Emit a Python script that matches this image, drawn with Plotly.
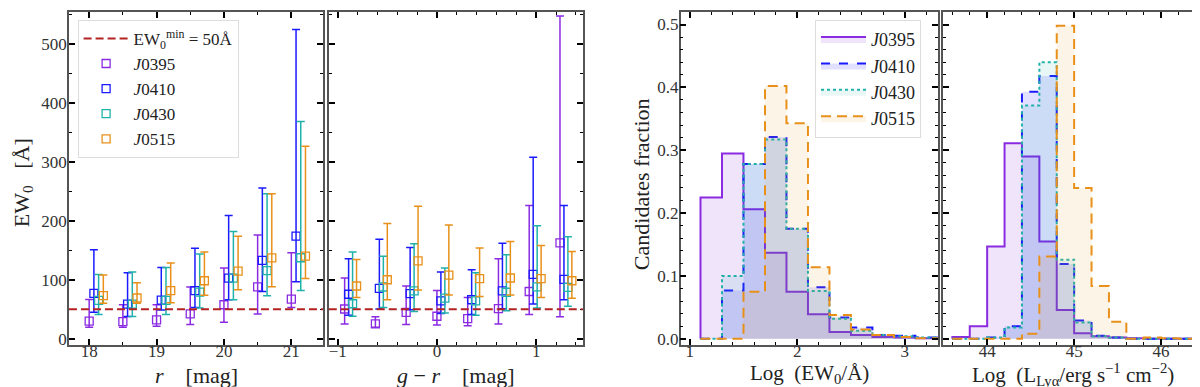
import plotly.graph_objects as go

# ---- data ----
SURVEYS = ["J0395", "J0410", "J0430", "J0515"]
COLORS = ["#8a2be2", "#1a1aff", "#20b2aa", "#e8901a"]
FILLS = ["rgba(138,43,226,0.13)", "rgba(26,26,255,0.13)",
         "rgba(32,178,170,0.10)", "rgba(232,144,26,0.10)"]
DASHES = ["solid", "dash", "dot", "10px,6px"]

EW_MIN = 50

# EW0 vs r magnitude
R_BINS = [18.0, 18.5, 19.0, 19.5, 20.0, 20.5, 21.0]
R_MID = {
    "J0395": [29.6, 29.0, 31.8, 42.0, 57.5, 88.0, 67.0],
    "J0410": [77.0, 58.7, 65.4, 81.6, 102.8, 133.0, 174.0],
    "J0430": [65.0, 58.7, 65.0, 79.0, 102.8, 115.6, 137.4],
    "J0515": [73.0, 69.0, 81.6, 98.3, 114.5, 137.0, 140.0],
}
R_LOW = {
    "J0395": [19.5, 19.5, 21.0, 24.0, 28.0, 42.0, 53.0],
    "J0410": [45.0, 37.4, 48.6, 53.0, 66.0, 80.0, 96.6],
    "J0430": [41.0, 37.4, 41.0, 52.0, 66.0, 73.0, 81.6],
    "J0515": [60.0, 60.0, 61.0, 73.7, 83.0, 88.0, 102.0],
}
R_HIGH = {
    "J0395": [66.5, 57.5, 57.5, 87.7, 120.0, 176.0, 146.0],
    "J0410": [151.0, 112.0, 121.0, 153.6, 209.0, 256.0, 525.0],
    "J0430": [109.0, 113.0, 121.0, 143.6, 182.0, 246.0, 369.0],
    "J0515": [108.0, 95.0, 128.5, 147.0, 174.0, 246.0, 327.0],
}

# EW0 vs g-r colour
GR_BINS = [-0.93, -0.62, -0.31, 0.0, 0.31, 0.62, 0.93, 1.24]
GR_MID = {
    "J0395": [50.3, 25.0, 44.7, 38.0, 34.0, 50.8, 80.0, 162.6],
    "J0410": [75.4, 85.5, 76.5, 64.0, 66.0, 81.0, 109.0, 100.6],
    "J0430": [59.2, 87.7, 81.0, 68.7, 64.0, 78.8, 88.0, 87.0],
    "J0515": [89.4, 100.0, 132.0, 108.0, 102.0, 103.0, 102.0, 98.3],
}
GR_LOW = {
    "J0395": [25.0, 19.5, 24.0, 23.0, 22.0, 25.0, 40.8, 37.0],
    "J0410": [39.7, 50.3, 49.0, 42.5, 41.0, 50.8, 59.0, 66.0],
    "J0430": [38.0, 53.0, 46.0, 43.6, 39.7, 47.5, 52.0, 55.0],
    "J0515": [70.0, 66.0, 82.7, 74.0, 71.5, 74.0, 70.0, 68.7],
}
GR_HIGH = {
    "J0395": [103.0, 37.0, 89.4, 81.6, 70.0, 135.8, 226.0, 548.0],
    "J0410": [135.8, 169.0, 155.0, 113.0, 117.0, 162.0, 308.0, 226.0],
    "J0430": [147.0, 140.0, 161.0, 120.0, 111.7, 142.5, 191.6, 173.0],
    "J0515": [134.6, 195.5, 225.0, 193.0, 154.0, 165.0, 158.0, 148.0],
}

# histograms of log EW0
EW_EDGES = [1.1, 1.3, 1.5, 1.7, 1.9, 2.1, 2.3, 2.5, 2.7, 2.9, 3.1, 3.3]
EW_FRAC = {
    "J0395": [0.225, 0.295, 0.206, 0.137, 0.075, 0.039, 0.011, 0.006, 0.003, 0.002, 0.001],
    "J0410": [0.0, 0.077, 0.278, 0.321, 0.175, 0.082, 0.034, 0.018, 0.006, 0.005, 0.002],
    "J0430": [0.0, 0.100, 0.278, 0.317, 0.175, 0.076, 0.032, 0.013, 0.006, 0.004, 0.002],
    "J0515": [0.0, 0.0, 0.075, 0.402, 0.343, 0.114, 0.038, 0.015, 0.006, 0.003, 0.001],
}

# histograms of log L_Lya
L_EDGES = [43.6, 43.8, 44.0, 44.2, 44.4, 44.6, 44.8, 45.0, 45.2, 45.4,
           45.6, 45.8, 46.0, 46.2, 46.4]
L_FRAC = {
    "J0395": [0.003, 0.020, 0.147, 0.311, 0.290, 0.155, 0.046, 0.009, 0.004, 0.002, 0.001, 0.0, 0.0, 0.0],
    "J0410": [0.0, 0.0, 0.002, 0.020, 0.393, 0.418, 0.119, 0.029, 0.005, 0.002, 0.0, 0.0, 0.0, 0.0],
    "J0430": [0.0, 0.0, 0.002, 0.018, 0.371, 0.440, 0.126, 0.026, 0.004, 0.002, 0.0, 0.0, 0.0, 0.0],
    "J0515": [0.0, 0.0, 0.0, 0.0, 0.008, 0.131, 0.498, 0.240, 0.084, 0.027, 0.0, 0.002, 0.001, 0.0],
}

FONT = "Liberation Serif"
R_SHIFT = 0.07
GR_SHIFT = 0.04

fig = go.Figure()


def add_errorbars(bins, mid, low, high, shift, xa, ya, legend):
    for k, name in enumerate(SURVEYS):
        fig.add_trace(
            go.Scatter(
                x=[b + k * shift for b in bins],
                y=mid[name],
                mode="markers",
                name="<i>J</i>" + name[1:],
                marker=dict(symbol="square-open", size=8, color=COLORS[k],
                            line=dict(width=1.3)),
                error_y=dict(
                    type="data", symmetric=False,
                    array=[h - m for h, m in zip(high[name], mid[name])],
                    arrayminus=[m - lo for m, lo in zip(mid[name], low[name])],
                    color=COLORS[k], thickness=1.5, width=4,
                ),
                xaxis=xa, yaxis=ya,
                showlegend=legend,
                legend="legend",
            )
        )


def add_histograms(edges, frac, xa, ya, legend):
    for k, name in enumerate(SURVEYS):
        xs = [edges[0]] + list(edges)
        ys = [0.0] + list(frac[name]) + [0.0]
        fig.add_trace(
            go.Scatter(
                x=xs, y=ys,
                mode="lines",
                line=dict(shape="hv", color=COLORS[k], width=2, dash=DASHES[k]),
                fill="tozeroy", fillcolor=FILLS[k],
                name="<i>J</i>" + name[1:],
                xaxis=xa, yaxis=ya,
                showlegend=legend,
                legend="legend2",
            )
        )


# threshold legend entry
fig.add_trace(
    go.Scatter(
        x=[None], y=[None], mode="lines",
        line=dict(color="#b22222", width=2, dash="8px,4px"),
        name="EW<sub>0</sub><sup>min</sup> = 50Å",
        legend="legend",
    )
)

add_errorbars(R_BINS, R_MID, R_LOW, R_HIGH, R_SHIFT, "x", "y", True)
add_errorbars(GR_BINS, GR_MID, GR_LOW, GR_HIGH, GR_SHIFT, "x2", "y2", False)
add_histograms(EW_EDGES, EW_FRAC, "x3", "y3", True)
add_histograms(L_EDGES, L_FRAC, "x4", "y4", False)

for xr, yr in [("x", "y"), ("x2", "y2")]:
    fig.add_shape(
        type="line", xref=xr + " domain", yref=yr,
        x0=0, x1=1, y0=EW_MIN, y1=EW_MIN,
        line=dict(color="#b22222", width=2, dash="8px,4px"),
    )

frame = dict(
    showline=True, linecolor="#555", linewidth=1.5, mirror="allticks",
    ticks="inside", ticklen=6, tickwidth=1.6, tickcolor="black",
    showgrid=False, zeroline=False,
    tickfont=dict(family=FONT, size=17, color="#333"),
)


def axis(domain, rng, dtick, minor, **kw):
    d = dict(frame)
    d.update(domain=domain, range=rng, dtick=dtick,
             minor=dict(dtick=minor, ticks="inside", ticklen=3,
                        tickwidth=1.3, tickcolor="black", showgrid=False))
    d.update(kw)
    return d


YDOM = [0.1214, 0.9897]
title_font = dict(family=FONT, size=22, color="#222")
hist_title_font = dict(family=FONT, size=21, color="#222")

fig.update_layout(
    width=1200, height=387,
    margin=dict(l=0, r=0, t=0, b=0),
    plot_bgcolor="white", paper_bgcolor="white",
    font=dict(family=FONT, size=17, color="#222"),
    xaxis=axis([0.0508, 0.2625], [17.7, 21.47], 1, 0.5, tick0=18,
               ticklabelstandoff=-10),
    yaxis=axis(YDOM, [-10, 555], 100, 50, ticklabelstandoff=-3),
    xaxis2=axis([0.2673, 0.479], [-1.09, 1.47], 1, 0.2, tick0=0,
                ticklabelstandoff=-10),
    yaxis2=axis(YDOM, [-10, 555], 100, 50, anchor="x2", showticklabels=False),
    xaxis3=axis([0.5606, 0.775], [0.916, 3.31], 1, 0.2, tick0=1, anchor="y3",
                ticklabelstandoff=-10),
    yaxis3=axis(YDOM, [-0.009, 0.52], 0.1, 0.02, anchor="x3", tickformat=".1f",
                ticklabelstandoff=-3),
    xaxis4=axis([0.779, 0.995], [43.49, 46.47], 1, 0.2, tick0=44, anchor="y4",
                ticklabelstandoff=-10),
    yaxis4=axis(YDOM, [-0.009, 0.52], 0.1, 0.02, anchor="x4", showticklabels=False),
    legend=dict(
        x=0.058, y=0.969, xanchor="left", yanchor="top",
        bgcolor="white", bordercolor="#ddd", borderwidth=1,
        font=dict(family=FONT, size=17, color="#222"),
        itemwidth=45, tracegroupgap=0,
    ),
    legend2=dict(
        x=0.6725, y=0.969, xanchor="left", yanchor="top",
        bgcolor="white", bordercolor="#ddd", borderwidth=1,
        font=dict(family=FONT, size=18, color="#222"),
        itemwidth=45, tracegroupgap=0,
    ),
    showlegend=True,
)

# axis titles as annotations for precise placement
titles = [
    ("<i>r</i>    [mag]", 188 / 1200, 1 - 371 / 387, 0, title_font),
    ("<i>g</i> − <i>r</i>    [mag]", 448 / 1200, 1 - 371 / 387, 0, title_font),
    ("Log  (EW<sub>0</sub>/Å)", 801 / 1200, 1 - 370 / 387, 0, hist_title_font),
    ("Log  (L<sub>Lyα</sub>/erg s<sup>−1</sup> cm<sup>−2</sup>)", 1065 / 1200,
     1 - 370 / 387, 0, hist_title_font),
    ("EW<sub>0</sub>   [Å]", 15 / 1200, 1 - 177 / 387, -90, title_font),
    ("Candidates fraction", 633 / 1200, 1 - 178 / 387, -90, title_font),
]
for text, x, y, ang, fnt in titles:
    fig.add_annotation(
        text=text, x=x, y=y, xref="paper", yref="paper",
        xanchor="center", yanchor="middle", textangle=ang,
        showarrow=False, font=fnt,
    )

fig.write_html("out.html")
